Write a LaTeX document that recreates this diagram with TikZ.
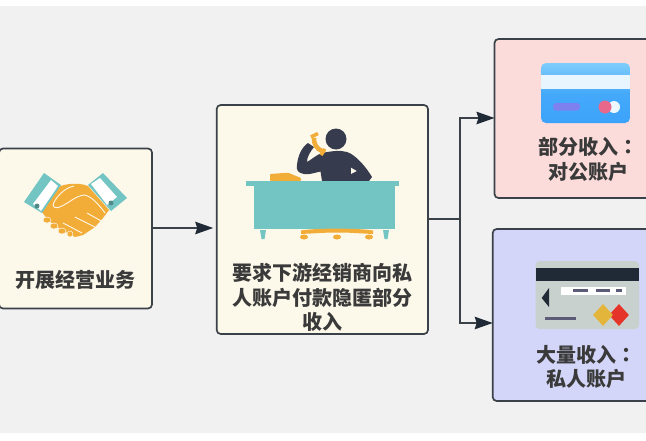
\documentclass[tikz,border=0pt]{standalone}
\usepackage{fontspec}
\newfontfamily\cjk{Noto Sans CJK SC}
\newfontfamily\cjkcolon{Noto Sans CJK TC}
\usetikzlibrary{positioning,arrows.meta,shapes.geometric}
\definecolor{pagebg}{HTML}{F1F1F1}
\definecolor{boxline}{HTML}{3A4149}
\definecolor{cream}{HTML}{FCF8EA}
\definecolor{pinkbox}{HTML}{FBDCDA}
\definecolor{bluebox}{HTML}{D3D6F8}
\definecolor{teal}{HTML}{73C5C4}
\definecolor{gold}{HTML}{F2AC38}
\definecolor{navy}{HTML}{363B4E}
\definecolor{darktip}{HTML}{1F2A36}
\definecolor{cardgrey}{HTML}{C9D1CE}
\definecolor{cardblue}{HTML}{3BA3FA}
\definecolor{cardtop}{HTML}{7FCDFB}
\definecolor{cardbar}{HTML}{7F80F0}
\definecolor{cardpink}{HTML}{E8688C}
\definecolor{dashgrey}{HTML}{5C5C78}
\definecolor{redgem}{HTML}{E5352B}
\definecolor{yellowgem}{HTML}{E3B53B}
\definecolor{txt}{HTML}{3A3A3A}
\begin{document}
\begin{tikzpicture}[
    x=1pt, y=-1pt,
    stepbox/.style={draw=boxline, line width=1.7pt, rounded corners=4pt, anchor=north west, inner sep=0pt, outer sep=0pt},
    lbl/.style={font=\cjk\bfseries\fontsize{20}{24.5}\selectfont, text=txt, align=center},
    arr/.style={draw=boxline, line width=1.5pt, -{Stealth[length=18pt,width=12.5pt,inset=2pt,color=darktip]}},
    gem/.style={diamond, inner sep=0pt, minimum width=20pt, minimum height=22pt},
    >=LaTeX
    ]
\useasboundingbox (0,0) rectangle (646,440);
\fill[white] (0,0) rectangle (646,440);
\fill[pagebg] (0,6) rectangle (646,433);

% boxes
\node[stepbox, fill=cream, minimum width=153pt, minimum height=160pt] (biz) at (-1,148.5) {};
\node[stepbox, fill=cream, minimum width=211.3pt, minimum height=229pt] (ask) at (216.7,105) {};
\node[stepbox, fill=pinkbox, minimum width=170pt, minimum height=159pt] (pub) at (494.5,39) {};
\node[stepbox, fill=bluebox, minimum width=170pt, minimum height=172pt] (pri) at (492.7,229) {};

% labels
\node[lbl] (bizt) at (75.5,280) {开展经营业务};
\node[lbl] (askt) at (322.5,297.5) {要求下游经销商向私\\人账户付款隐匿部分\\收入};
\node[lbl] (pubt) at (588,159.5) {部分收入{\cjkcolon\bfseries ：}\\对公账户};
\node[lbl] (prit) at (586.5,367) {大量收入{\cjkcolon\bfseries ：}\\私人账户};

% connectors
\coordinate (fork) at (460,219);
\draw[arr, shorten >=3.5pt] (biz.east|-0,228) -- (ask.west|-0,228);
\draw[arr] (ask.east|-fork) -- (fork) |- (pub.west|-0,118);
\draw[arr] (ask.east|-fork) -- (fork) |- (pri.west|-0,323);

% handshake
\fill[gold] (58,187) .. controls (64,184) and (78,182) .. (88,186) -- (109,210) -- (103,218) -- (95,227) -- (83,235) -- (75,237) -- (60,229) -- (48,220) -- (42,212) -- cycle;
\draw[cream, line width=.9pt] (74,186) .. controls (64,188) and (55,198) .. (53,205) .. controls (54,209) and (58,208) .. (62,206) .. controls (70,202) and (76,196) .. (84,195) .. controls (92,196) and (100,206) .. (105,213);
\foreach \i/\j/\k/\l in {87/213/103/222, 75/217/95/227, 63/223/82/233}
  \draw[cream, line width=.9pt] (\i,\j) -- (\k,\l);
\foreach \i/\j/\k in {47/220/4, 54/226/4, 62/231/4, 70/234/3}
  \fill[gold, draw=cream, line width=.5pt] (\i,\j) ellipse (\k pt and 3pt);
\fill[teal] (44,173) -- (61,185) -- (42,213) -- (24,202) -- cycle;
\fill[white] (51,180) -- (58,186) -- (41,211) -- (33,204) -- cycle;
\fill[teal] (103,173) -- (127,198) -- (111,211) -- (88,185) -- cycle;
\fill[white] (91,184) -- (100,178) -- (117,197) -- (107,205) -- cycle;
\fill[teal!70!black] (37,206) circle (2.5pt) (111,203) circle (2.5pt);

% man at desk
\fill[navy] (336,139) circle (10.5pt);
\fill[navy] (322,181) -- (320.5,171.5) .. controls (314,173) and (308,175) .. (304,174) .. controls (298,173) and (296,170) .. (297,165) .. controls (298,155) and (302,147) .. (308,143) -- (314,147) .. controls (310,152) and (307,157) .. (307,162) .. controls (311,160) and (316,155) .. (322,153) .. controls (332,151) and (340,150) .. (347,152) .. controls (356,155) and (366,167) .. (372,177) -- (369,181) -- cycle;
\fill[cream] (351,167.7) -- (356.7,171) -- (351,174) -- cycle;
\draw[gold, line width=4.5pt] (314,138) .. controls (313.5,144) and (317,149) .. (322,151);
\draw[gold, line width=3.5pt] (311,137) -- (318,133.5);
\draw[gold, line width=3.5pt] (321,155) -- (325,149);
\fill[gold, rounded corners=1pt] (270,181) -- (270,174) -- (288,172.7) -- (301,178) -- (301,181) -- cycle;
\fill[teal] (246,181) rectangle (399,186);
\fill[teal] (254,186) rectangle (395,228.5);
\fill[teal] (260,230) -- (266,230) -- (264.5,239) -- (261.5,239) -- cycle;
\fill[teal] (383,230) -- (389,230) -- (387.5,239) -- (384.5,239) -- cycle;
\fill[gold] (301,234) -- (301,230.5) .. controls (315,228) and (358,228) .. (373,230.5) -- (373,234) -- (345,232.5) -- (330,232.5) -- cycle;
\foreach \i in {304,337,369}
  \fill[gold] (\i,237) ellipse (4pt and 2.5pt);

% blue card
\begin{scope}
\clip[rounded corners=5pt] (541,63) rectangle (630,123);
\shade[top color=cardtop, bottom color=cardblue, middle color=cardblue!85!cardtop] (541,63) rectangle (630,123);
\fill[white, opacity=.87] (541,75) rectangle (630,89);
\end{scope}
\fill[cardbar, rounded corners=3pt] (553,103) rectangle (580,110.5);
\fill[white!92!cyan] (614,107) circle (6pt);
\fill[cardpink] (605,107) circle (6.5pt);

% grey card
\fill[cardgrey, rounded corners=4pt] (535.5,261) rectangle (639,329);
\fill[darktip] (535.5,268) rectangle (639,281);
\fill[white] (561,286.7) rectangle (625.7,295);
\foreach \i/\j in {573/588, 596/610, 616/622}
  \fill[dashgrey] (\i,289) rectangle (\j,292);
\fill[darktip] (541.7,298) -- (549,288) -- (549,307) -- cycle;
\fill[dashgrey] (545,317) rectangle (576,319.5);
\node[gem, fill=redgem] (rd) at (619,315) {};
\node[gem, fill=yellowgem] (yd) at (603,315) {};
\end{tikzpicture}
\end{document}
